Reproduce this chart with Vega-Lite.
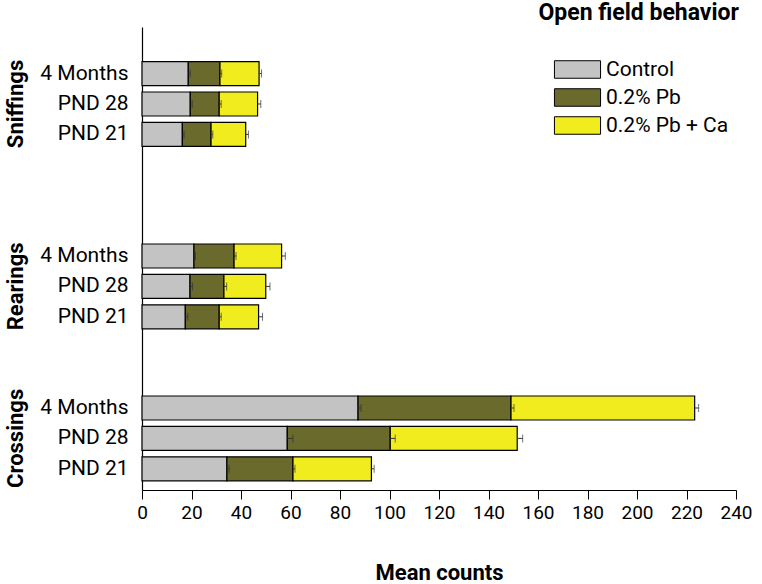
{
  "$schema": "https://vega.github.io/schema/vega-lite/v6.json",
  "autosize": {"type": "none"},
  "padding": {"left": 142, "top": 27, "right": 26, "bottom": 94},
  "width": 594,
  "height": 463,
  "title": {"text": "Open field behavior", "anchor": "end", "fontSize": 23, "font": "Roboto", "fontWeight": "bold", "color": "black", "offset": 2, "dx": -13},
  "data": {"values": [
    {"row": "Sniffings|4 Months", "treatment": "Control", "start": 0, "end": 18.7, "errhi": 19.5},
    {"row": "Sniffings|4 Months", "treatment": "0.2% Pb", "start": 18.7, "end": 31.5, "errhi": 32.2},
    {"row": "Sniffings|4 Months", "treatment": "0.2% Pb + Ca", "start": 31.5, "end": 47.3, "errhi": 48.3},
    {"row": "Sniffings|PND 28", "treatment": "Control", "start": 0, "end": 19.5, "errhi": 20.3},
    {"row": "Sniffings|PND 28", "treatment": "0.2% Pb", "start": 19.5, "end": 31.2, "errhi": 32.0},
    {"row": "Sniffings|PND 28", "treatment": "0.2% Pb + Ca", "start": 31.2, "end": 46.7, "errhi": 48.0},
    {"row": "Sniffings|PND 21", "treatment": "Control", "start": 0, "end": 16.3, "errhi": 17.0},
    {"row": "Sniffings|PND 21", "treatment": "0.2% Pb", "start": 16.3, "end": 27.9, "errhi": 28.6},
    {"row": "Sniffings|PND 21", "treatment": "0.2% Pb + Ca", "start": 27.9, "end": 41.9, "errhi": 43.0},
    {"row": "Rearings|4 Months", "treatment": "Control", "start": 0, "end": 21.0, "errhi": 21.6},
    {"row": "Rearings|4 Months", "treatment": "0.2% Pb", "start": 21.0, "end": 37.2, "errhi": 38.0},
    {"row": "Rearings|4 Months", "treatment": "0.2% Pb + Ca", "start": 37.2, "end": 56.4, "errhi": 57.9},
    {"row": "Rearings|PND 28", "treatment": "Control", "start": 0, "end": 19.4, "errhi": 20.4},
    {"row": "Rearings|PND 28", "treatment": "0.2% Pb", "start": 19.4, "end": 33.1, "errhi": 34.2},
    {"row": "Rearings|PND 28", "treatment": "0.2% Pb + Ca", "start": 33.1, "end": 50.0, "errhi": 51.7},
    {"row": "Rearings|PND 21", "treatment": "Control", "start": 0, "end": 17.5, "errhi": 18.5},
    {"row": "Rearings|PND 21", "treatment": "0.2% Pb", "start": 17.5, "end": 31.2, "errhi": 32.0},
    {"row": "Rearings|PND 21", "treatment": "0.2% Pb + Ca", "start": 31.2, "end": 47.1, "errhi": 48.7},
    {"row": "Crossings|4 Months", "treatment": "Control", "start": 0, "end": 87.3, "errhi": 88.5},
    {"row": "Crossings|4 Months", "treatment": "0.2% Pb", "start": 87.3, "end": 149.1, "errhi": 150.3},
    {"row": "Crossings|4 Months", "treatment": "0.2% Pb + Ca", "start": 149.1, "end": 223.3, "errhi": 224.9},
    {"row": "Crossings|PND 28", "treatment": "Control", "start": 0, "end": 58.7, "errhi": 61.0},
    {"row": "Crossings|PND 28", "treatment": "0.2% Pb", "start": 58.7, "end": 100.3, "errhi": 102.3},
    {"row": "Crossings|PND 28", "treatment": "0.2% Pb + Ca", "start": 100.3, "end": 151.6, "errhi": 153.8},
    {"row": "Crossings|PND 21", "treatment": "Control", "start": 0, "end": 34.3, "errhi": 35.2},
    {"row": "Crossings|PND 21", "treatment": "0.2% Pb", "start": 34.3, "end": 61.0, "errhi": 61.8},
    {"row": "Crossings|PND 21", "treatment": "0.2% Pb + Ca", "start": 61.0, "end": 92.7, "errhi": 93.8}
  ]},
  "layer": [
    {
      "encoding": {
        "y": {
          "field": "row", "type": "nominal",
          "scale": {"type": "band", "domain": ["Sniffings|4 Months", "Sniffings|PND 28", "Sniffings|PND 21", "gap1", "gap2", "gap3", "Rearings|4 Months", "Rearings|PND 28", "Rearings|PND 21", "gap4", "gap5", "Crossings|4 Months", "Crossings|PND 28", "Crossings|PND 21"], "paddingInner": 0.21, "paddingOuter": 0.72, "align": 0.79},
          "axis": {"orient": "left", "title": null, "ticks": false, "tickSize": 0, "labelPadding": 14, "labelAlign": "right", "labelBaseline": "middle", "labelFontSize": 21, "labelFont": "Roboto", "labelColor": "black", "domainColor": "black", "domainWidth": 1.2, "labelOverlap": false, "labelExpr": "indexof(datum.value, '|') >= 0 ? split(datum.value, '|')[1] : ''"}
        }
      },
      "layer": [
        {
          "mark": {"type": "bar", "stroke": "black", "strokeWidth": 1.2},
          "encoding": {
            "x": {"field": "start", "type": "quantitative", "scale": {"domain": [0, 240], "nice": false},
              "axis": {"title": "Mean counts", "values": [0,5,10,15,20,25,30,35,40,45,50,55,60,65,70,75,80,85,90,95,100,105,110,115,120,125,130,135,140,145,150,155,160,165,170,175,180,185,190,195,200,205,210,215,220,225,230,235,240],
                "labelExpr": "datum.value % 20 === 0 ? datum.label : ''", "grid": false, "tickColor": "black", "domainColor": "black", "domainWidth": 1.2,
                "tickSize": {"condition": {"test": "datum.value % 20 === 0", "value": 9}, "value": 6},
                "labelFontSize": 19, "labelFont": "Roboto", "labelColor": "black", "labelPadding": 4, "labelOverlap": false, "labelFlush": false,
                "titleFontSize": 22, "titleFont": "Roboto", "titleFontWeight": "bold", "titleColor": "black", "titlePadding": 40}},
            "x2": {"field": "end"},
            "color": {"field": "treatment", "type": "nominal",
              "scale": {"domain": ["Control", "0.2% Pb", "0.2% Pb + Ca"], "range": ["#c3c3c3", "#6a6a2c", "#f0ec1e"]},
              "legend": {"title": null, "orient": "none", "legendX": 425, "legendY": 32, "symbolType": "M-2.5,-0.95H2.5V0.95H-2.5Z", "symbolSize": 340, "symbolStrokeColor": "black", "symbolStrokeWidth": 1, "symbolOpacity": 1, "labelFontSize": 21, "labelFont": "Roboto", "labelColor": "black", "labelOffset": 18, "rowPadding": 5, "padding": 0}}
          }
        },
        {
          "mark": {"type": "rule", "color": "#333333", "strokeWidth": 1},
          "encoding": {"x": {"field": "end", "type": "quantitative"}, "x2": {"field": "errhi"}}
        },
        {
          "mark": {"type": "tick", "color": "#333333", "size": 8, "thickness": 1},
          "encoding": {"x": {"field": "errhi", "type": "quantitative"}}
        }
      ]
    },
    {
      "mark": {"type": "text", "text": ""},
      "encoding": {
        "y": {
          "field": "row", "type": "nominal",
          "scale": {"type": "band", "domain": ["Sniffings|4 Months", "Sniffings|PND 28", "Sniffings|PND 21", "gap1", "gap2", "gap3", "Rearings|4 Months", "Rearings|PND 28", "Rearings|PND 21", "gap4", "gap5", "Crossings|4 Months", "Crossings|PND 28", "Crossings|PND 21"], "paddingInner": 0.21, "paddingOuter": 0.72, "align": 0.79},
          "axis": {"orient": "left", "title": null, "ticks": false, "tickSize": 0, "domain": false, "offset": 0, "labelPadding": 120, "labelAngle": -90, "labelAlign": "center", "labelBaseline": "alphabetic", "labelFontSize": 22, "labelFont": "Roboto", "labelFontWeight": "bold", "labelColor": "black", "labelOverlap": false, "labelBound": false,
            "labelExpr": "datum.value == 'Sniffings|PND 28' ? 'Sniffings' : datum.value == 'Rearings|PND 28' ? 'Rearings' : datum.value == 'Crossings|PND 28' ? 'Crossings' : ''"}
        }
      }
    }
  ],
  "resolve": {"scale": {"y": "independent"}, "axis": {"y": "independent"}},
  "config": {"view": {"stroke": null}, "font": "Roboto"}
}
